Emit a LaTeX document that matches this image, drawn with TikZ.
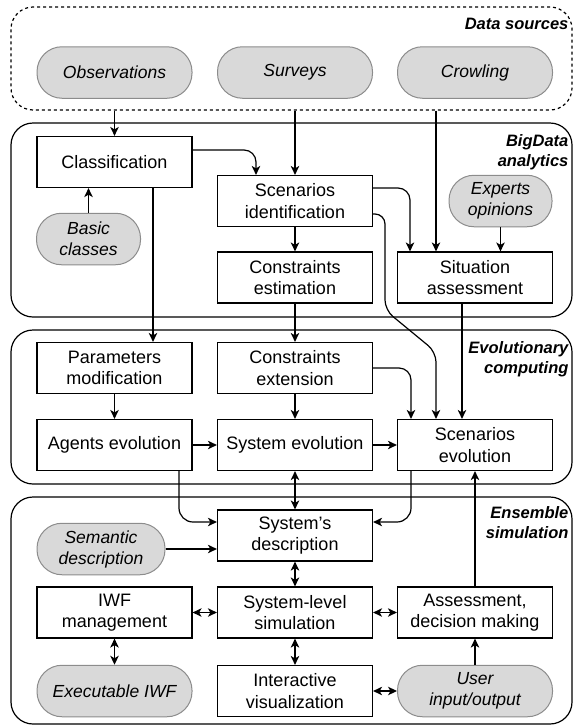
\documentclass[tikz,border=0pt]{standalone}
\usepackage{fontspec}
\setmainfont{Liberation Sans}
\usetikzlibrary{arrows.meta}
\begin{document}
\begin{tikzpicture}[x=1pt,y=-1pt,line width=1.2pt,
  every node/.style={inner sep=0pt, align=center},
  box/.style={draw, fill=white, minimum width=155pt, minimum height=51pt,
    font=\fontsize{18}{21.6}\selectfont},
  pill/.style={draw=black!45, line width=1pt, fill=black!15, minimum height=51.5pt,
    rounded corners=25pt, font=\fontsize{17.5}{21}\selectfont\itshape},
  grp/.style={draw, rounded corners=22pt, minimum width=561pt},
  lbl/.style={font=\fontsize{16.5}{20}\selectfont\bfseries\itshape, align=right, anchor=base east},
  tip/.tip={Stealth[length=9pt,width=8.5pt,inset=2.5pt]},
  arr/.style={-tip},
  darr/.style={tip-tip}]
\useasboundingbox (0,0) rectangle (573,726);

% groups
\node[grp, dashed, minimum height=103pt] (ds) at (291.5,58.5) {};
\node[grp, minimum height=194pt] (bd) at (291.5,220) {};
\node[grp, minimum height=154pt] (ec) at (291.5,407) {};
\node[grp, minimum height=227pt] (es) at (291.5,610.5) {};

\node[lbl] (lds) at (569,29) {Data sources};
\node[lbl] (lbd) at (569,166) {BigData\\analytics};
\node[lbl] (lec) at (569,373) {Evolutionary\\computing};
\node[lbl] (les) at (569,538.5) {Ensemble\\simulation};

% data sources
\node[pill, minimum width=155pt] (obs) at (114.5,72.5) {Observations};
\node[pill, minimum width=155pt] (sur) at (295,72.5) {Surveys};
\node[pill, minimum width=155pt] (cro) at (475,72.5) {Crowling};

% big data analytics
\node[box] (cls) at (114.5,162) {Classification};
\node[box] (sid) at (295,201) {Scenarios\\identification};
\node[pill, minimum width=104pt] (bas) at (88.5,239) {Basic\\classes};
\node[pill, minimum width=103pt] (exp) at (500.5,201) {Experts\\opinions};
\node[box] (ces) at (295,277.5) {Constraints\\estimation};
\node[box] (sit) at (475,277.5) {Situation\\assessment};

% evolutionary computing
\node[box] (par) at (114.5,368) {Parameters\\modification};
\node[box] (cex) at (295,368) {Constraints\\extension};
\node[box] (age) at (114.5,445) {Agents evolution};
\node[box] (sev) at (295,445) {System evolution};
\node[box] (sce) at (475,445) {Scenarios\\evolution};

% ensemble simulation
\node[box] (sysd) at (295,535.5) {System’s\\description};
\node[pill, minimum width=128pt] (sem) at (101,549) {Semantic\\description};
\node[box] (iwf) at (114.5,612.5) {IWF\\management};
\node[box] (sls) at (295,612.5) {System-level\\simulation};
\node[box] (ass) at (475,612.5) {Assessment,\\decision making};
\node[pill, minimum width=155pt] (exe) at (114.5,691) {Executable IWF};
\node[box] (ivis) at (295,691) {Interactive\\visualization};
\node[pill, minimum width=155pt] (usr) at (475,691) {User\\input/output};

% connectors
\coordinate (sitin) at ([xshift=-39pt]sit.north);
\draw[arr] (ds.south -| cls.north) -- (cls.north);
\draw[arr] (ds.south -| sid.north) -- (sid.north);
\draw[arr] (ds.south -| sitin) -- (sitin);
\draw[arr, rounded corners=12pt] ([yshift=12pt]cls.east) -| ([xshift=-39pt]sid.north);
\draw[arr] (bas.north) -- (bas.north |- cls.south);
\draw[arr] (exp.south) -- (exp.south |- sit.north);
\draw[arr, rounded corners=12pt] ([yshift=13pt]sid.east) -| ([xshift=-65pt]sit.north);
\draw[arr, rounded corners=10pt] ([yshift=-13pt]sid.east) -| (385,310) -- (436,352) -- ([xshift=-39pt]sce.north);
\draw[arr] (sid) -- (ces);
\draw[arr] ([xshift=38.5pt]cls.south) -- ([xshift=38.5pt]par.north);
\draw[arr] (ces) -- (cex);
\draw[arr] ([xshift=-13pt]sit.south) -- ([xshift=-13pt]sce.north);
\draw[arr] (par) -- (age);
\draw[arr] (cex) -- (sev);
\draw[arr, rounded corners=12pt] (cex.east) -| ([xshift=-64pt]sce.north);
\draw[arr] (age) -- (sev);
\draw[arr] (sev) -- (sce);
\draw[arr, rounded corners=14pt] ([xshift=64.5pt]age.south) |- ([yshift=13.5pt]sysd.west);
\draw[arr, rounded corners=14pt] ([xshift=-64pt]sce.south) |- ([yshift=13.5pt]sysd.east);
\draw[darr] (sev) -- (sysd);
\draw[arr] (ass) -- (sce);
\draw[arr] (sem.east) -- (sem.east -| sysd.west);
\draw[darr] (sysd) -- (sls);
\draw[darr] (iwf) -- (sls);
\draw[darr] (sls) -- (ass);
\draw[darr] (iwf) -- (exe);
\draw[darr] (sls) -- (ivis);
\draw[darr] (ivis) -- (usr);
\draw[arr] (usr) -- (ass);
\end{tikzpicture}
\end{document}
